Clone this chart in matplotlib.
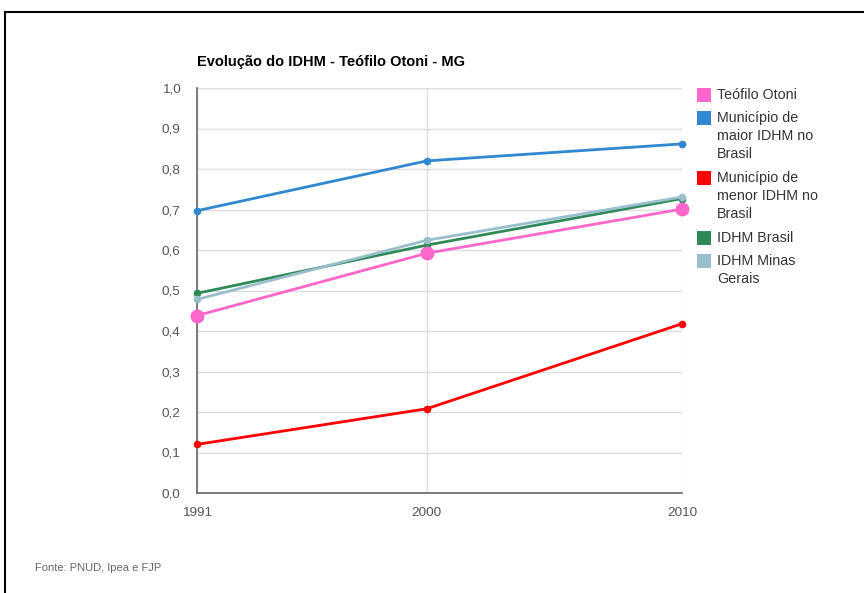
import matplotlib.pyplot as plt
from matplotlib.patches import Rectangle

plt.rcParams['font.family'] = ['Liberation Sans', 'DejaVu Sans']

anos = [1991, 2000, 2010]
teofilo_otoni = [0.438, 0.592, 0.701]
maior_idhm = [0.697, 0.820, 0.862]
menor_idhm = [0.120, 0.208, 0.418]
idhm_brasil = [0.493, 0.612, 0.727]
idhm_mg = [0.478, 0.624, 0.731]

y_ticks = [0.0, 0.1, 0.2, 0.3, 0.4, 0.5, 0.6, 0.7, 0.8, 0.9, 1.0]
y_labels = ['0,0', '0,1', '0,2', '0,3', '0,4', '0,5', '0,6', '0,7', '0,8', '0,9', '1,0']

series = [
    ('Teófilo Otoni', teofilo_otoni, '#ff66cc'),
    ('Município de\nmaior IDHM no\nBrasil', maior_idhm, '#3088d0'),
    ('Município de\nmenor IDHM no\nBrasil', menor_idhm, '#ff0000'),
    ('IDHM Brasil', idhm_brasil, '#2e8b57'),
    ('IDHM Minas\nGerais', idhm_mg, '#99bfcc'),
]

W, H = 864, 593
fig = plt.figure(figsize=(W / 100, H / 100), dpi=100)
ax = fig.add_axes([197 / W, 1 - 493 / H, (682 - 197) / W, (493 - 88) / H])

# draw order: pink last so it sits on top
for idx in [1, 2, 3, 4, 0]:
    nome, vals, cor = series[idx]
    ms = 9 if idx == 0 else 4.5
    ax.plot(anos, vals, color=cor, lw=2, marker='o', ms=ms, mec=cor,
            clip_on=False, zorder=3 + (idx == 0))

ax.set_xlim(1991, 2010)
ax.set_ylim(0, 1)
ax.set_xticks(anos)
ax.set_xticklabels([str(a) for a in anos])
ax.set_yticks(y_ticks)
ax.set_yticklabels(y_labels)
ax.tick_params(length=0, labelsize=9.7, colors='#555555')
ax.tick_params(axis='y', pad=12)
ax.tick_params(axis='x', pad=10)
ax.grid(True, color='#dddddd', lw=1)
ax.set_axisbelow(True)
for s in ['top', 'right']:
    ax.spines[s].set_visible(False)
for s in ['left', 'bottom']:
    ax.spines[s].set_color('#666666')
    ax.spines[s].set_linewidth(1.2)

fig.text(197 / W, 1 - 62 / H, 'Evolução do IDHM - Teófilo Otoni - MG',
         fontsize=10.5, fontweight='bold', color='#000000', va='center', ha='left')

# legend drawn by hand so the square lines up with the first text line
leg_y = [95, 118, 178, 238, 261]
for (nome, vals, cor), yy in zip(series, leg_y):
    fig.patches.append(Rectangle((697 / W, 1 - (yy + 7) / H), 14 / W, 14 / H,
                                 transform=fig.transFigure, facecolor=cor,
                                 edgecolor='none'))
    fig.text(717 / W, 1 - (yy - 7) / H, nome, fontsize=10.3, color='#333333',
             va='top', ha='left', linespacing=1.38)

fig.text(35 / W, 1 - 568 / H, 'Fonte: PNUD, Ipea e FJP', fontsize=8,
         color='#666666', va='center', ha='left')

# outer frame of the screenshot
fig.patches.append(Rectangle((5 / W, -0.1), 1.2, 1.1 - 12 / H,
                             transform=fig.transFigure, facecolor='none',
                             edgecolor='black', lw=1.5))

fig.savefig('out.png', dpi=100)
